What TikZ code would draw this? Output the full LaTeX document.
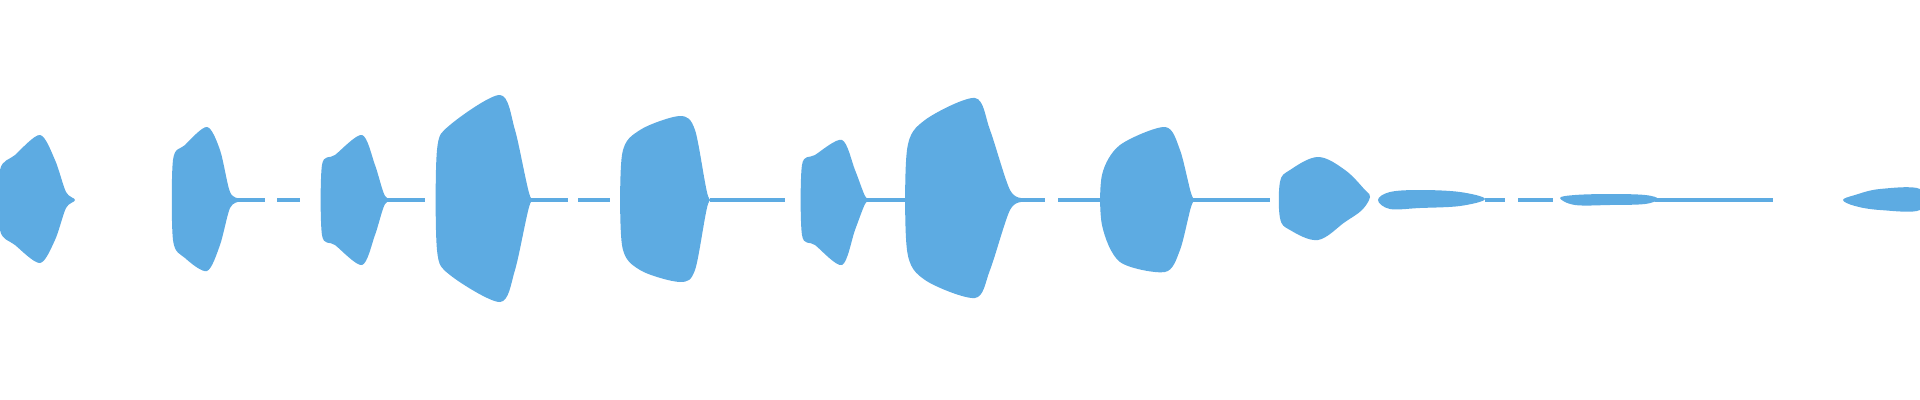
\documentclass[tikz,border=0pt]{standalone}
\definecolor{wv}{RGB}{93,171,226}
\begin{document}
\begin{tikzpicture}[x=0.01cm,y=-0.01cm,wave/.style={fill=wv},thin line/.style={draw=wv,line width=1.2pt}]
\useasboundingbox (0,0) rectangle (1920,400);
% thin segments
\foreach \a/\b in {235/265,277/300,385/425,530/568,578/610,710/785,860/905,1020/1045,1058/1100,1190/1270,1485/1505,1518/1553,1655/1773}
  \draw[thin line] (\a,200) -- (\b,200);
% blobs
\fill[wave] plot[smooth cycle,tension=0.5] coordinates {(0,170)(15,155)(40,135)(55,160)(66,192)(75,200)(66,208)(55,240)(40,263)(15,245)(0,230)};
\fill[wave] plot[smooth cycle,tension=0.5] coordinates {(173,160)(185,145)(207,127)(220,150)(230,192)(240,199)(240,201)(230,208)(220,245)(207,271)(185,258)(173,240)};
\fill[wave] plot[smooth cycle,tension=0.5] coordinates {(322,165)(335,155)(362,135)(375,165)(385,196)(395,199)(395,201)(385,204)(375,235)(362,265)(335,245)(322,235)};
\fill[wave] plot[smooth cycle,tension=0.5] coordinates {(437,150)(450,125)(500,95)(515,130)(530,196)(540,199)(540,201)(530,204)(515,270)(500,302)(450,275)(437,250)};
\fill[wave] plot[smooth cycle,tension=0.5] coordinates {(622,155)(640,130)(680,116)(695,130)(708,196)(718,199)(718,201)(708,204)(695,270)(680,282)(640,270)(622,245)};
\fill[wave] plot[smooth cycle,tension=0.5] coordinates {(802,165)(815,155)(842,140)(855,170)(865,196)(870,199)(870,201)(865,204)(855,230)(842,265)(815,245)(802,235)};
\fill[wave] plot[smooth cycle,tension=0.5] coordinates {(907,150)(925,120)(975,98)(990,130)(1010,190)(1025,199)(1025,201)(1010,210)(990,270)(975,298)(925,280)(907,250)};
\fill[wave] plot[smooth cycle,tension=0.5] coordinates {(1102,175)(1120,145)(1165,127)(1180,150)(1192,196)(1200,199)(1200,201)(1192,204)(1180,250)(1165,272)(1120,262)(1102,225)};
\fill[wave] plot[smooth cycle,tension=0.6] coordinates {(1280,182)(1290,170)(1318,157)(1345,170)(1365,190)(1370,197)(1362,210)(1345,222)(1318,240)(1290,230)(1280,218)};
\fill[wave] plot[smooth cycle,tension=0.6] coordinates {(1378,200)(1390,192)(1420,190)(1460,192)(1485,199)(1460,206)(1420,208)(1390,209)};
\fill[wave] plot[smooth cycle,tension=0.6] coordinates {(1560,198)(1575,195)(1610,194)(1645,195)(1658,199)(1645,204)(1610,205)(1575,205)};
\fill[wave] plot[smooth cycle,tension=0.6] coordinates {(1843,200)(1855,195)(1880,189)(1920,189)(1920,210)(1880,210)(1855,206)};
\end{tikzpicture}
\end{document}
